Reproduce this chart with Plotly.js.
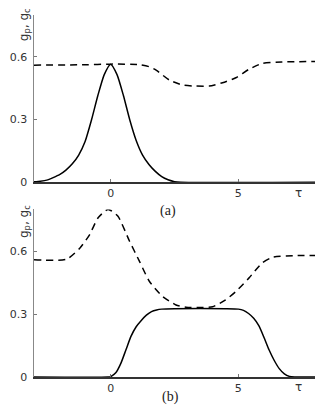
<!DOCTYPE html>
<html>
<head>
<meta charset="utf-8">
<script src="https://cdn.plot.ly/plotly-3.0.1.min.js"></script>
<style>
  html, body { margin: 0; padding: 0; background: #fff; }
  #chart { width: 327px; height: 410px; }
</style>
</head>
<body>
<div id="chart"></div>
<script>
// panel (a): pulse g_p (solid) and g_c (dashed)
const tauA_p = [-3, -2.75, -2.5, -2.25, -2, -1.75, -1.5, -1.25, -1, -0.75, -0.5, -0.25, 0,
                0.25, 0.5, 0.75, 1, 1.25, 1.5, 1.75, 2, 2.25, 2.5, 2.75, 8];
const gpA    = [0.002, 0.005, 0.01, 0.022, 0.036, 0.058, 0.088, 0.13, 0.195, 0.298, 0.415, 0.515, 0.565,
                0.515, 0.415, 0.298, 0.2, 0.13, 0.085, 0.052, 0.027, 0.012, 0.003, 0, 0];
const tauA_c = [-3, -1, 0, 1.13, 1.5, 1.78, 2.3, 2.82, 3.34, 3.86, 4.38, 4.9, 5.41, 5.93, 6.7, 8];
const gcA    = [0.56, 0.562, 0.565, 0.563, 0.553, 0.536, 0.489, 0.465, 0.46, 0.46, 0.476, 0.5, 0.54, 0.568, 0.575, 0.578];

// panel (b)
const tauB_p = [-3, -0.1, 0, 0.2, 0.4, 0.6, 0.8, 1.0, 1.2, 1.4, 1.6, 1.8, 2.0, 2.5, 4.5, 5.0, 5.2, 5.4,
                5.6, 5.8, 6.0, 6.2, 6.4, 6.6, 6.8, 7.0, 7.2, 8];
const gpB    = [0, 0, 0.002, 0.02, 0.065, 0.13, 0.195, 0.24, 0.27, 0.295, 0.312, 0.32, 0.324, 0.326, 0.326, 0.324, 0.318, 0.303,
                0.28, 0.245, 0.19, 0.13, 0.08, 0.04, 0.015, 0.003, 0, 0];
const tauB_c = [-3, -1.73, -1.2, -0.82, -0.49, -0.1, 0.28, 0.74, 1.13, 1.52, 2.04, 2.56, 2.95, 3.5, 3.99, 4.5, 4.9, 5.41, 5.93, 6.32, 7.2, 8];
const gcB    = [0.56, 0.562, 0.616, 0.68, 0.76, 0.8, 0.768, 0.648, 0.552, 0.456, 0.384, 0.344, 0.333, 0.332, 0.335, 0.368, 0.408, 0.472, 0.544, 0.571, 0.579, 0.58];

const xTicks = [0, 5];
const xTickText = ['0', '5'];
const yTicks = [0, 0.3, 0.6];
const yTickText = ['0', '0.3', '0.6'];

const tickFont = {family: 'DejaVu Sans', size: 11, color: '#333'};

function line(x, y, xa, ya, dash, shape) {
    return {
        x: x, y: y, xaxis: xa, yaxis: ya,
        mode: 'lines',
        line: {color: '#000', width: 1.5, dash: dash, shape: shape, smoothing: 0.6},
        hoverinfo: 'skip'
    };
}

const traces = [
    line(tauA_p, gpA, 'x', 'y', 'solid', 'spline'),
    line(tauA_c, gcA, 'x', 'y', '7px,5px', 'spline'),
    line(tauB_p, gpB, 'x2', 'y2', 'solid', 'spline'),
    line(tauB_c, gcB, 'x2', 'y2', '7px,5px', 'spline')
];

function xax(anchor) {
    return {
        anchor: anchor, domain: [0, 1], range: [-3, 8],
        tickvals: xTicks, ticktext: xTickText,
        ticks: 'inside', ticklen: 3, tickcolor: '#777', tickwidth: 1,
        showline: true, linecolor: '#333', linewidth: 1.5,
        showgrid: false, zeroline: false, tickfont: tickFont
    };
}
function yax(anchor, dom) {
    return {
        anchor: anchor, domain: dom, range: [0, 0.8],
        tickvals: yTicks, ticktext: yTickText,
        ticks: 'inside', ticklen: 3, tickcolor: '#777', tickwidth: 1,
        showline: true, linecolor: '#888', linewidth: 1.5,
        showgrid: false, zeroline: false, tickfont: tickFont,
        ticklabelstandoff: 3
    };
}

const ylab = 'g<sub>p</sub>, g<sub>c</sub>';
const labFont = {family: 'DejaVu Sans', size: 12, color: '#333'};
const layout = {
    width: 327, height: 410,
    margin: {l: 34, r: 12, t: 15, b: 33},
    paper_bgcolor: '#fff', plot_bgcolor: '#fff',
    showlegend: false,
    xaxis: xax('y'),
    yaxis: yax('x', [0.538, 1]),
    xaxis2: xax('y2'),
    yaxis2: yax('x2', [0, 0.463]),
    annotations: [
        {text: ylab, xref: 'paper', yref: 'paper', x: 0, y: 0.972, xshift: -9, textangle: -90,
         xanchor: 'center', yanchor: 'middle', showarrow: false, font: labFont},
        {text: ylab, xref: 'paper', yref: 'paper', x: 0, y: 0.428, xshift: -9, textangle: -90,
         xanchor: 'center', yanchor: 'middle', showarrow: false, font: labFont},
        {text: 'τ', xref: 'x', yref: 'y', x: 7.35, y: 0, yshift: -11, showarrow: false,
         yanchor: 'middle', font: {family: 'DejaVu Sans', size: 12, color: '#333'}},
        {text: 'τ', xref: 'x2', yref: 'y2', x: 7.35, y: 0, yshift: -10, showarrow: false,
         yanchor: 'middle', font: {family: 'DejaVu Sans', size: 12, color: '#333'}},
        {text: '(a)', xref: 'paper', yref: 'paper', x: 0.477, y: 0.4586, showarrow: false,
         xanchor: 'center', yanchor: 'middle', font: {family: 'Liberation Serif', size: 14, color: '#222'}},
        {text: '(b)', xref: 'paper', yref: 'paper', x: 0.484, y: -0.055, showarrow: false,
         xanchor: 'center', yanchor: 'middle', font: {family: 'Liberation Serif', size: 14, color: '#222'}}
    ]
};

Plotly.newPlot('chart', traces, layout, {displayModeBar: false, staticPlot: true});
</script>
</body>
</html>
